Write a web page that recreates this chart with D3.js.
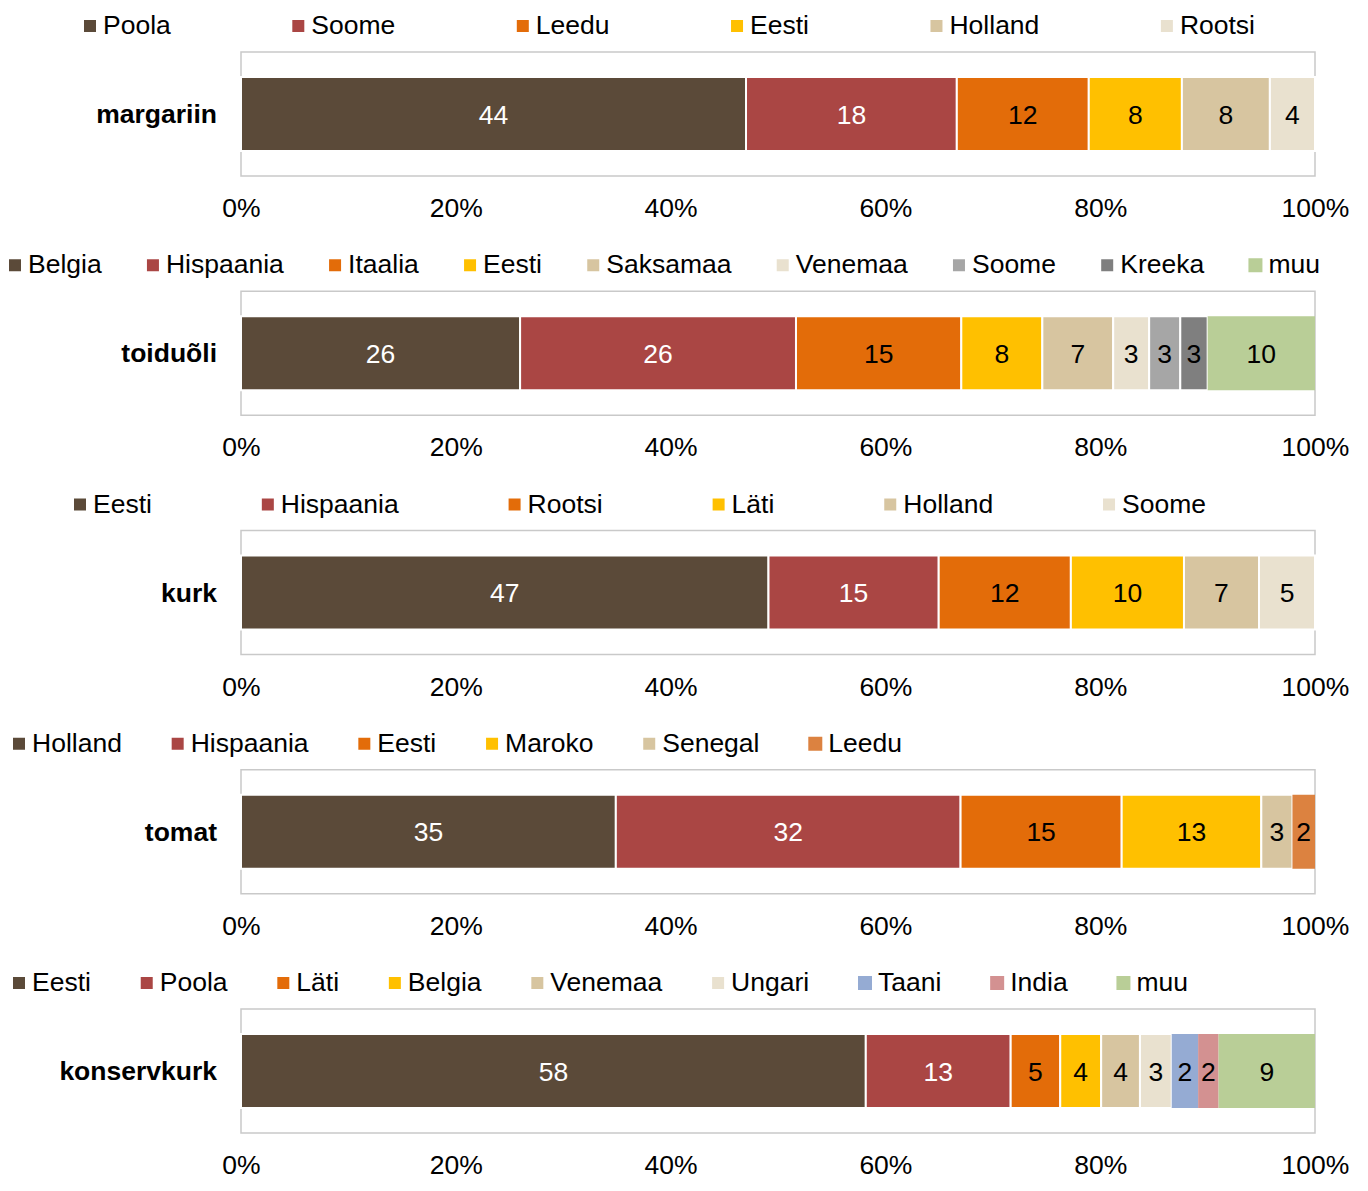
<!DOCTYPE html>
<html>
<head>
<meta charset="utf-8">
<script src="https://cdn.jsdelivr.net/npm/d3@7"></script>
<style>
  html, body { margin: 0; padding: 0; background: #fff; }
  svg { display: block; font-family: "Liberation Sans", Arial, sans-serif; }
</style>
</head>
<body>
<svg id="chart" width="1368" height="1191"></svg>
<script>
// ---------------- DATA ----------------
const categories = ["margariin", "toiduõli", "kurk", "tomat", "konservkurk"];

const margariinSeries = ["Poola", "Soome", "Leedu", "Eesti", "Holland", "Rootsi"];
const margariinValues = [44.2, 18.45, 11.55, 8.15, 7.7, 3.95];

const toiduoliSeries = ["Belgia", "Hispaania", "Itaalia", "Eesti", "Saksamaa", "Venemaa", "Soome", "Kreeka", "muu"];
const toiduoliValues = [26.0, 25.7, 15.4, 7.55, 6.6, 3.35, 2.9, 2.55, 10.0];

const kurkSeries = ["Eesti", "Hispaania", "Rootsi", "Läti", "Holland", "Soome"];
const kurkValues = [47.1, 15.2, 11.8, 10.1, 6.7, 5.0];

const tomatSeries = ["Holland", "Hispaania", "Eesti", "Maroko", "Senegal", "Leedu"];
const tomatValues = [34.9, 32.1, 15.0, 13.0, 2.9, 2.1];

const konservkurkSeries = ["Eesti", "Poola", "Läti", "Belgia", "Venemaa", "Ungari", "Taani", "India", "muu"];
const konservkurkValues = [58.0, 13.45, 4.6, 3.8, 3.6, 2.95, 2.45, 1.9, 8.95];

const tickValues = [0, 0.2, 0.4, 0.6, 0.8, 1.0];
const tickLabels = ["0%", "20%", "40%", "60%", "80%", "100%"];

// ---------------- STYLE / LAYOUT ----------------
const C = {
  brown: "#5B4A39", red: "#AA4644", orange: "#E36C09", yellow: "#FFC000",
  tan: "#D7C5A0", beige: "#E9E1CF", gray: "#A6A6A6", dgray: "#7F7F7F",
  green: "#B9CE97", blue: "#95ABD3", pink: "#D39191", orange2: "#DC8240"
};
const basePalette = [C.brown, C.red, C.orange, C.yellow, C.tan, C.beige, C.gray, C.dgray, C.green];
const palettes = [
  basePalette,
  basePalette,
  basePalette,
  [C.brown, C.red, C.orange, C.yellow, C.tan, C.orange2],
  [C.brown, C.red, C.orange, C.yellow, C.tan, C.beige, C.blue, C.pink, C.green]
];
// series drawn without the white separator border
const noBorder = [[], ["muu"], [], ["Leedu"], ["Taani", "India", "muu"]];
// legend row extents: left of first marker, right end of last text
const legendExtents = [[83, 1255], [8, 1320], [73, 1206], [12, 902], [12, 1188]];

const panels = [
  { series: margariinSeries, values: margariinValues },
  { series: toiduoliSeries, values: toiduoliValues },
  { series: kurkSeries, values: kurkValues },
  { series: tomatSeries, values: tomatValues },
  { series: konservkurkSeries, values: konservkurkValues }
];

const plotLeft = 241, plotRight = 1315;
const frameTop0 = 52, panelStep = 239.25, frameH = 124;
const barOffset = 25, barH = 74;
const FS = 26.5;

const svg = d3.select("#chart");
const x = d3.scaleLinear().domain([0, 1]).range([plotLeft, plotRight]);

panels.forEach((p, i) => {
  const top = frameTop0 + i * panelStep;
  const g = svg.append("g");
  const color = d3.scaleOrdinal().domain(p.series).range(palettes[i]);
  const nb = new Set(noBorder[i]);

  // frame
  g.append("rect")
    .attr("x", plotLeft).attr("y", top)
    .attr("width", plotRight - plotLeft).attr("height", frameH)
    .attr("fill", "#fff").attr("stroke", "#C9C9C9").attr("stroke-width", 1.5);

  // stacked data (100% expand)
  const row = {};
  p.series.forEach((s, k) => row[s] = p.values[k]);
  const stacked = d3.stack().keys(p.series).offset(d3.stackOffsetExpand)([row]);

  const y = d3.scaleBand().domain([categories[i]]).range([top + barOffset, top + barOffset + barH]).padding(0);
  const bandTop = y(categories[i]);
  const cy = bandTop + y.bandwidth() / 2;

  const segs = g.selectAll("g.seg").data(stacked).join("g").attr("class", "seg");
  segs.append("rect")
    .attr("x", d => x(d[0][0]))
    .attr("y", bandTop)
    .attr("width", d => x(d[0][1]) - x(d[0][0]))
    .attr("height", y.bandwidth())
    .attr("fill", d => color(d.key))
    .attr("stroke", d => nb.has(d.key) ? "none" : "#fff")
    .attr("stroke-width", 2);

  segs.append("text")
    .attr("x", d => (x(d[0][0]) + x(d[0][1])) / 2)
    .attr("y", cy + 9.5)
    .attr("text-anchor", "middle")
    .attr("font-size", FS)
    .attr("fill", d => (d.index <= 1) ? "#fff" : "#000")
    .text((d, k) => Math.round(p.values[k]));

  // category label
  g.append("text")
    .attr("x", 217).attr("y", cy + 9)
    .attr("text-anchor", "end")
    .attr("font-size", FS).attr("font-weight", "bold")
    .text(categories[i]);

  // x axis
  const axis = d3.axisBottom(x).tickValues(tickValues)
    .tickFormat((d, k) => tickLabels[k]).tickSize(0);
  const ag = g.append("g").attr("transform", `translate(0,${top + frameH})`).call(axis);
  ag.select(".domain").remove();
  ag.selectAll("text")
    .attr("y", 41).attr("dy", null)
    .attr("font-size", FS).attr("fill", "#000")
    .style("font-family", "'Liberation Sans', Arial, sans-serif");

  // legend
  const lg = g.append("g");
  const items = lg.selectAll("g.li").data(p.series).join("g").attr("class", "li");
  items.append("rect")
    .attr("width", 14).attr("height", 14)
    .attr("y", top - 33)
    .attr("fill", d => color(d))
    .attr("stroke", d => nb.has(d) ? "none" : "#fff")
    .attr("stroke-width", 2);
  items.append("text")
    .attr("x", 20).attr("y", top - 18)
    .attr("font-size", FS).attr("fill", "#000")
    .text(d => d);
  const widths = [];
  items.each(function () {
    widths.push(20 + d3.select(this).select("text").node().getComputedTextLength());
  });
  const [x0, x1] = legendExtents[i];
  const total = d3.sum(widths);
  const gap = (x1 - x0 - total) / (p.series.length - 1);
  let cx = x0;
  items.each(function (d, k) {
    d3.select(this).attr("transform", `translate(${cx},0)`);
    cx += widths[k] + gap;
  });
});
</script>
</body>
</html>
